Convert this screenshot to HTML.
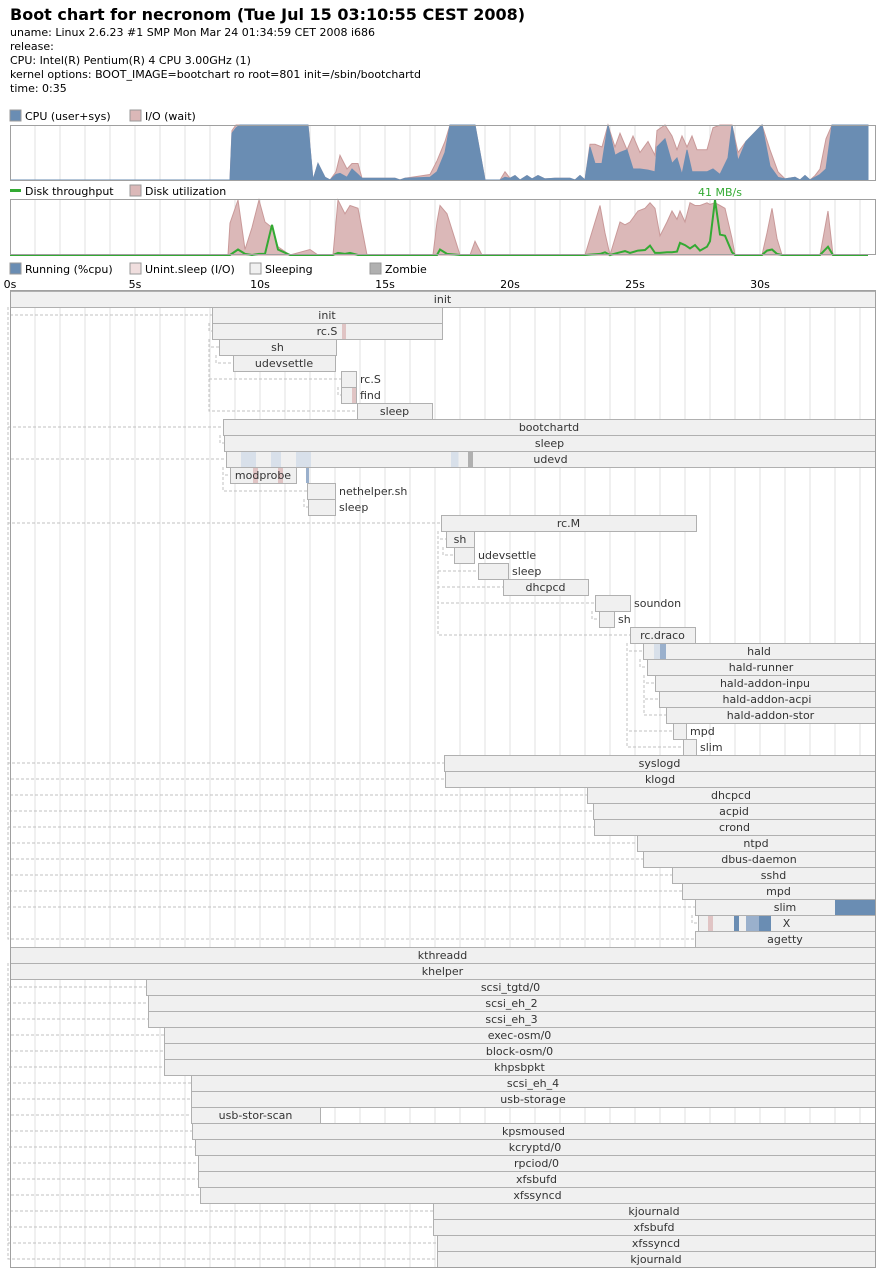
<!DOCTYPE html>
<html><head><meta charset="utf-8"><style>
html,body{margin:0;padding:0;background:#fff;}
svg{display:block;font-family:"DejaVu Sans","Liberation Sans",sans-serif;}
</style></head><body>
<svg id="chart" width="885" height="1276" viewBox="0 0 885 1276" xmlns="http://www.w3.org/2000/svg">
<g>
<text x="10" y="20" font-size="16" font-weight="bold" fill="#000">Boot chart for necronom (Tue Jul 15 03:10:55 CEST 2008)</text>
<text x="10" y="36" font-size="11" fill="#000">uname: Linux 2.6.23 #1 SMP Mon Mar 24 01:34:59 CET 2008 i686</text>
<text x="10" y="50" font-size="11" fill="#000">release:</text>
<text x="10" y="64" font-size="11" fill="#000">CPU: Intel(R) Pentium(R) 4 CPU 3.00GHz (1)</text>
<text x="10" y="78" font-size="11" fill="#000">kernel options: BOOT_IMAGE=bootchart ro root=801 init=/sbin/bootchartd</text>
<text x="10" y="92" font-size="11" fill="#000">time: 0:35</text>
</g>
<g font-size="11" fill="#000">
<rect x="10" y="110" width="11" height="11" fill="#6a8db3" stroke="#999"/><text x="25" y="120">CPU (user+sys)</text>
<rect x="130" y="110" width="11" height="11" fill="#dbb8b8" stroke="#999"/><text x="145" y="120">I/O (wait)</text>
</g>
<g font-size="11" fill="#000">
<rect x="10" y="189" width="11" height="3" fill="#33aa33"/><text x="25" y="195">Disk throughput</text>
<rect x="130" y="185" width="11" height="11" fill="#dbb8b8" stroke="#999"/><text x="145" y="195">Disk utilization</text>
</g>
<g font-size="11" fill="#000">
<rect x="10" y="263" width="11" height="11" fill="#6a8db3" stroke="#999"/><text x="25" y="273">Running (%cpu)</text>
<rect x="130" y="263" width="11" height="11" fill="#f0dede" stroke="#999"/><text x="145" y="273">Unint.sleep (I/O)</text>
<rect x="250" y="263" width="11" height="11" fill="#f0f0f0" stroke="#999"/><text x="265" y="273">Sleeping</text>
<rect x="370" y="263" width="11" height="11" fill="#b0b0b0" stroke="#999"/><text x="385" y="273">Zombie</text>
</g>
<g id="cpuG"></g>
<g id="diskG"></g>
<g id="axisG"></g>
<g id="procG"></g>
</svg>
<script>
const cpuTimes=[0,8.8,8.88,9.04,9.2,11.92,12.12,12.32,12.6,12.8,13.04,13.2,13.48,13.68,13.92,14.08,14.8,15.4,15.6,15.8,16.8,17.08,17.4,17.6,18.6,19.0,19.6,19.8,20.0,20.2,20.4,20.68,20.88,21.12,21.4,21.8,22.4,22.6,22.8,23.0,23.2,23.4,23.68,23.92,24.2,24.4,24.68,24.92,25.2,25.52,25.8,25.88,26.2,26.48,26.68,26.88,27.08,27.28,27.48,27.88,28.12,28.4,28.72,28.88,29.12,29.44,30.08,30.4,30.72,31.0,31.4,31.6,31.8,32.0,32.2,32.4,32.64,32.88,34.32];
const cpuUser=[0,0,0.85,0.95,1,1,0,0.3,0.05,0,0.1,0.12,0.05,0.2,0.1,0.03,0.03,0.03,0,0.03,0.05,0.15,0.5,1,1,0,0,0.05,0.03,0.08,0,0.08,0.02,0.08,0.02,0.03,0.03,0,0.08,0,0.6,0.3,0.3,1,0.45,0.5,0.55,0.2,0.2,0.18,0.15,0.6,0.75,0.3,0.4,0.1,0.55,0.15,0.15,0.15,0.2,0.1,0.4,1,0.35,0.7,1,0.25,0.05,0.02,0.05,0,0.08,0,0.05,0.1,0.2,1,1];
const cpuIoTop=[0,0,0.9,1,1,1,0,0.3,0.05,0,0.15,0.45,0.2,0.3,0.3,0.03,0.03,0.03,0,0.03,0.1,0.35,0.7,1,1,0,0,0.15,0.03,0.08,0,0.08,0.02,0.08,0.02,0.03,0.03,0,0.08,0,0.65,0.65,0.6,1,0.6,0.85,0.55,0.8,0.5,0.7,0.45,0.9,1,0.8,0.55,0.8,0.6,0.8,0.55,0.55,0.95,1,1,1,0.5,0.7,1,0.55,0.15,0.02,0.05,0,0.08,0,0.08,0.2,0.75,1,1];
const diskTimes=[0,8.72,8.8,9.12,9.4,9.68,9.96,10.2,10.48,10.72,11.2,12.0,12.32,12.92,13.12,13.4,13.6,13.92,14.28,16.92,17.08,17.2,17.48,18.0,18.4,18.6,18.88,23.0,23.6,23.8,24.0,24.4,24.6,24.8,25.12,25.4,25.6,25.8,26.0,26.28,26.48,26.68,26.8,27.0,27.2,27.4,27.6,27.88,28.0,28.2,28.4,28.6,28.88,29.0,30.08,30.28,30.48,30.68,30.88,32.4,32.72,32.92,34.32];
const diskUtil=[0,0,0.58,1,0.1,0.5,1,0.6,0.5,0.15,0,0.1,0,0,1,0.75,0.9,0.85,0,0,0.6,0.9,0.75,0,0,0.25,0,0,0.9,0.4,0,0.6,0.55,0.6,0.8,0.85,0.95,0.85,0.35,0.6,0.8,0.65,0.8,0.6,0.95,0.9,0.9,0.95,0.92,0.95,0.9,0.85,0.3,0,0,0.4,0.85,0.3,0,0,0.8,0,0];
const diskThroughput=[0,0,0,4.1,0.8,0,0.8,0.8,22.5,4.1,0,0,0,0,1.6,0.8,1.6,0,0,0,0,4.1,0.8,0,0,0,0,0,0.8,2,0,2,2.9,1.6,3.3,3.7,7,1.6,1.6,2,2,2.5,9,7.4,4.9,7.4,3.3,6.2,10.3,41,15.2,14.4,2,0,0,3.3,4.1,0.8,0,0,6.2,0,0];
const tickLabels=["0s","5s","10s","15s","20s","25s","30s"];
const procNames=["init","init","rc.S","sh","udevsettle","rc.S","find","sleep","bootchartd","sleep","udevd","modprobe","nethelper.sh","sleep","rc.M","sh","udevsettle","sleep","dhcpcd","soundon","sh","rc.draco","hald","hald-runner","hald-addon-inpu","hald-addon-acpi","hald-addon-stor","mpd","slim","syslogd","klogd","dhcpcd","acpid","crond","ntpd","dbus-daemon","sshd","mpd","slim","X","agetty","kthreadd","khelper","scsi_tgtd/0","scsi_eh_2","scsi_eh_3","exec-osm/0","block-osm/0","khpsbpkt","scsi_eh_4","usb-storage","usb-stor-scan","kpsmoused","kcryptd/0","rpciod/0","xfsbufd","xfssyncd","kjournald","xfsbufd","xfssyncd","kjournald"];
const procStart=[0,8.08,8.08,8.36,8.92,13.24,13.24,13.88,8.52,8.56,8.64,8.8,11.88,11.92,17.24,17.44,17.76,18.72,19.72,23.4,23.56,24.8,25.32,25.48,25.8,25.96,26.24,26.52,26.92,17.36,17.4,23.08,23.32,23.36,25.08,25.32,26.48,26.88,27.4,27.52,27.4,0,0,5.44,5.52,5.52,6.16,6.16,6.16,7.24,7.24,7.24,7.28,7.4,7.52,7.52,7.6,16.92,16.92,17.08,17.08];
const procEnd=[34.6,17.28,17.28,13.04,13.0,13.84,13.84,16.88,34.6,34.6,34.6,11.44,13.0,13.0,27.44,18.56,18.56,19.92,23.12,24.8,24.16,27.4,34.6,34.6,34.6,34.6,34.6,27.04,27.44,34.6,34.6,34.6,34.6,34.6,34.6,34.6,34.6,34.6,34.6,34.6,34.6,34.6,34.6,34.6,34.6,34.6,34.6,34.6,34.6,34.6,34.6,12.4,34.6,34.6,34.6,34.6,34.6,34.6,34.6,34.6,34.6];
const procParent=[-1,0,1,2,3,2,5,2,0,8,0,10,10,12,0,14,15,14,14,14,19,14,21,22,23,23,23,21,21,0,0,0,0,0,0,0,0,0,0,38,0,-1,41,41,41,41,41,41,41,41,41,41,41,41,41,41,41,41,41,41,41];
// state segments: row, start s, end s, state
const segRow=[2,6,10,10,10,10,10,11,11,11,22,22,38,39,39,39,39];
const segStart=[13.24,13.64,9.2,10.4,11.4,17.6,18.28,9.68,10.68,11.8,25.72,25.96,32.96,27.88,28.92,29.4,29.92];
const segEnd=[13.4,13.8,9.8,10.8,12.0,17.9,18.48,9.88,10.88,11.92,25.96,26.2,34.6,28.08,29.12,29.92,30.4];
const segState=["io","io","run1","run1","run1","run1","zombie","io","io","run2","run1","run2","run3","io","run3","run2","run3"];

const NS="http://www.w3.org/2000/svg";
const X0=10, PX=25, XR=875;
function xT(t){return X0+t*PX;}
function mk(tag,attrs,parent){const e=document.createElementNS(NS,tag);for(const k in attrs)e.setAttribute(k,attrs[k]);parent.appendChild(e);return e;}
function grid(g,y0,y1){for(let s=1;X0+s*PX<XR;s++){const l=mk('line',{x1:xT(s),x2:xT(s),y1:y0,y2:y1,stroke:'#e2e2e2','stroke-width':1},g);}}
function area(g,times,vals,y0,h,fill,stroke,name){let d='M'+xT(times[0])+','+y0;for(let i=0;i<times.length;i++)d+=' L'+xT(times[i]).toFixed(1)+','+(y0-vals[i]*h).toFixed(1);d+=' L'+xT(times[times.length-1])+','+y0+' Z';const p=mk('path',{d:d,fill:fill,stroke:stroke,'stroke-width':1},g);}

// CPU chart
const cpuG=document.getElementById('cpuG');
mk('rect',{x:10,y:125,width:865,height:55,fill:'#fff'},cpuG);
grid(cpuG,125,180);
area(cpuG,cpuTimes,cpuIoTop,180,55,'#dbb8b8','#c99999','io-wait-area');
area(cpuG,cpuTimes,cpuUser,180,55,'#6a8db3','#6a8db3','cpu-area');
mk('rect',{x:10.5,y:125.5,width:865,height:55,fill:'none',stroke:'#a0a0a0'},cpuG);

// Disk chart
const diskG=document.getElementById('diskG');
grid(diskG,200,255);
area(diskG,diskTimes,diskUtil,255,55,'#dbb8b8','#c99999','disk-util-area');
const maxT=Math.max(...diskThroughput);
let dl='';for(let i=0;i<diskTimes.length;i++)dl+=(i?' L':'M')+xT(diskTimes[i]).toFixed(1)+','+(255-diskThroughput[i]/maxT*55).toFixed(1);
const tl=mk('path',{d:dl,fill:'none',stroke:'#33aa33','stroke-width':2},diskG);


const mi=diskThroughput.indexOf(maxT);
const ml=mk('text',{x:xT(diskTimes[mi])+5,y:196,'font-size':11,fill:'#33aa33','text-anchor':'middle'},diskG);
ml.textContent=Math.round(maxT)+' MB/s';


mk('rect',{x:10.5,y:199.5,width:865,height:55,fill:'none',stroke:'#a0a0a0'},diskG);

// axis labels
const axisG=document.getElementById('axisG');
tickLabels.forEach((lab,i)=>{const t=mk('text',{x:xT(i*5),y:288,'font-size':11,'text-anchor':'middle',fill:'#000'},axisG);t.textContent=lab;});

// process chart
const procG=document.getElementById('procG');
const PY=291, RH=16;
mk('rect',{x:10,y:290,width:866,height:978,fill:'#fff'},procG);
grid(procG,290,1268);
const colors={io:'#e0c4c4',run1:'#d8e0ea',run2:'#9ab0cc',run3:'#6a8db3',zombie:'#b0b0b0'};
// connectors
for(let i=0;i<procNames.length;i++){const p=procParent[i];if(p<0)continue;
 const px=Math.max(xT(procStart[p])-(p===0||p===41?2:3),7);const ym=PY+i*RH+RH/2;const yp=PY+p*RH+RH;
 const c=mk('path',{d:'M'+px+','+yp+' L'+px+','+ym+' L'+xT(procStart[i])+','+ym,fill:'none',stroke:'#c0c0c0','stroke-dasharray':'3,2','stroke-width':1},procG);
 
 }
for(let i=0;i<procNames.length;i++){
 const x1=xT(procStart[i]),x2=Math.min(xT(procEnd[i]),XR),y=PY+i*RH;
 const g=mk('g',{},procG);
 
 
 mk('rect',{x:x1+0.5,y:y+0.5,width:x2-x1,height:RH,fill:'#f0f0f0',stroke:'#b0b0b0'},g);
 for(let k=0;k<segRow.length;k++){if(segRow[k]!==i)continue;
  const s=mk('rect',{x:xT(segStart[k])+1,y:y+1,width:(segEnd[k]-segStart[k])*PX,height:RH-1,fill:colors[segState[k]]},g);
  
  }
 const w=procNames[i].length*6.6;
 const inside=w+4<(x2-x1);
 const t=mk('text',{x:inside?(x1+x2)/2:x2+4,y:y+12,'font-size':11,fill:'#333','text-anchor':inside?'middle':'start'},g);
 t.textContent=procNames[i];
 
 }
mk('rect',{x:10.5,y:290.5,width:865,height:977,fill:'none',stroke:'#a0a0a0'},procG);
</script>
</body></html>
